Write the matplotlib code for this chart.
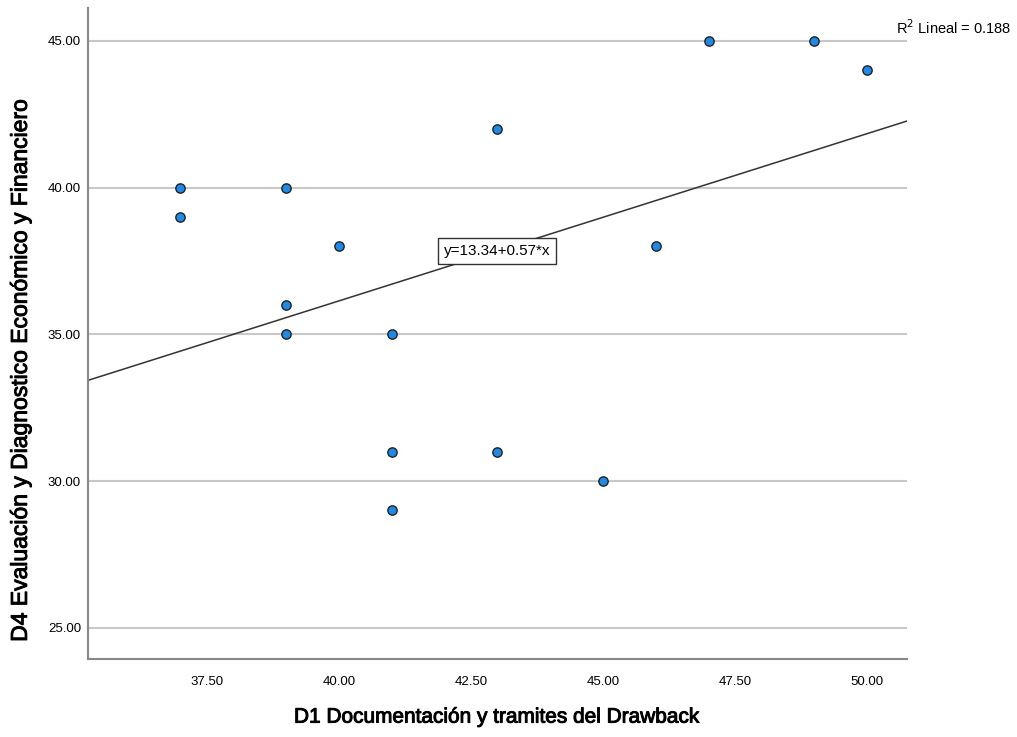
import matplotlib
matplotlib.use("Agg")
import matplotlib.pyplot as plt
import matplotlib.patheffects as pe

x_vals = [37, 37, 39, 39, 39, 40, 41, 41, 41, 43, 43, 44, 45, 46, 47, 49, 50]
y_vals = [40, 39, 40, 36, 35, 38, 35, 31, 29, 42, 31, 38, 30, 38, 45, 45, 44]
intercept = 13.34
slope = 0.57
r2 = 0.188
x_ticks = [37.5, 40.0, 42.5, 45.0, 47.5, 50.0]
y_ticks = [25.0, 30.0, 35.0, 40.0, 45.0]
xlim = (35.25, 50.76)
ylim = (23.94, 46.12)

sans = ['Liberation Sans', 'DejaVu Sans']
heavy = [pe.withStroke(linewidth=0.7, foreground='black')]

fig = plt.figure(figsize=(10.17, 7.37), dpi=100)
ax = fig.add_axes([0.0865, 0.106, 0.892 - 0.0865, 0.989 - 0.106])
ax.set_xlim(*xlim)
ax.set_ylim(*ylim)

for yt in y_ticks:
    ax.axhline(yt, color='#c8c8c8', lw=1.5, zorder=1)

ax.plot(list(xlim), [intercept + slope * xlim[0], intercept + slope * xlim[1]],
        color='#333333', lw=1.1, zorder=2)

ax.scatter(x_vals, y_vals, s=45, color='#1f8ae6', edgecolors='#222222',
           linewidths=1.0, zorder=3)

ax.text(43.0, 37.85, f'y={intercept:.2f}+{slope:.2f}*x', ha='center', va='center',
        fontsize=11, family=sans, zorder=4,
        bbox=dict(boxstyle='square,pad=0.38', fc='white', ec='#333333', lw=1))

for s in ['top', 'right']:
    ax.spines[s].set_visible(False)
for s in ['left', 'bottom']:
    ax.spines[s].set_color('#888888')
    ax.spines[s].set_linewidth(1.5)

ax.set_xticks(x_ticks)
ax.set_xticklabels([f'{v:.2f}' for v in x_ticks], family=sans, fontsize=9.5)
ax.set_yticks(y_ticks)
ax.set_yticklabels([f'{v:.2f}' for v in y_ticks], family=sans, fontsize=9.5)
ax.tick_params(length=0)
ax.tick_params(axis='x', pad=12)
ax.tick_params(axis='y', pad=5)

fig.text(0.489, 0.027, 'D1 Documentación y tramites del Drawback', ha='center',
         va='center', fontsize=15, family=sans, path_effects=heavy)
fig.text(0.02, 0.497, 'D4 Evaluación y Diagnostico Económico y Financiero',
         ha='center', va='center', rotation=90, fontsize=16.5, family=sans,
         path_effects=heavy)
fig.text(0.938, 0.962, f'R$^2$ Lineal = {r2:.3f}', ha='center', va='center',
         fontsize=10.5, family=sans)

fig.savefig('out.png', dpi=100)
